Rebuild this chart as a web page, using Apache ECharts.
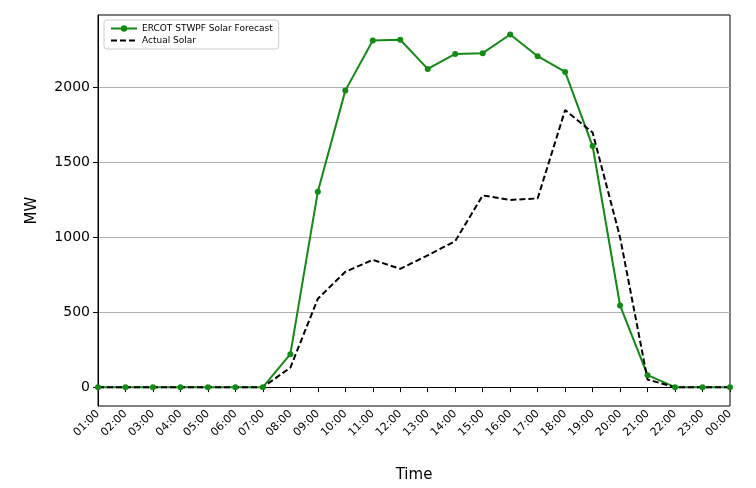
<!DOCTYPE html><html><head><meta charset="utf-8"><script src="https://cdn.jsdelivr.net/npm/echarts@6/dist/echarts.min.js"></script></head><body style="margin:0"><div id="c" style="width:756px;height:488px"></div><script>
const categories=['01:00','02:00','03:00','04:00','05:00','06:00','07:00','08:00','09:00','10:00','11:00','12:00','13:00','14:00','15:00','16:00','17:00','18:00','19:00','20:00','21:00','22:00','23:00','00:00'];
const forecast=[0,0,0,0,0,0,0,220,1305,1980,2315,2320,2125,2225,2230,2355,2210,2105,1610,545,80,0,0,0];
const actual=[0,0,0,0,0,0,0,130,590,770,850,790,880,975,1280,1250,1260,1850,1700,1000,50,0,0,0];
const yTicks=[0,500,1000,1500,2000];
const c=echarts.init(document.getElementById('c'));
const font='DejaVu Sans';
c.setOption({animation:false,textStyle:{fontFamily:font},
grid:{left:98,right:26,top:15,bottom:80,show:true,borderColor:'#000',borderWidth:1},
legend:{left:104,top:20,orient:'vertical',itemGap:3,itemWidth:26,itemHeight:8,backgroundColor:'#fff',borderColor:'#ccc',borderWidth:1,borderRadius:3,padding:[4,6],textStyle:{fontSize:9,color:'#000'},
data:[{name:'ERCOT STWPF Solar Forecast'},{name:'Actual Solar',itemStyle:{opacity:0}}]},
xAxis:{type:'category',data:categories,boundaryGap:false,name:'Time',nameLocation:'middle',nameGap:62,nameTextStyle:{fontSize:15,color:'#000'},
axisLine:{lineStyle:{color:'#000'}},axisTick:{lineStyle:{color:'#000'}},axisLabel:{rotate:45,color:'#000',fontSize:11,margin:6}},
yAxis:{type:'value',min:-126,max:2485,name:'MW',nameLocation:'middle',nameGap:58,nameTextStyle:{fontSize:15,color:'#000'},
axisLine:{show:true,lineStyle:{color:'#000'}},axisTick:{show:true,customValues:yTicks,lineStyle:{color:'#000'}},axisLabel:{customValues:yTicks,color:'#000',fontSize:14,formatter:v=>String(v)},
splitLine:{show:true,lineStyle:{color:'#b0b0b0'}}},
series:[{name:'ERCOT STWPF Solar Forecast',type:'line',data:forecast,color:'#138a13',lineStyle:{width:2},symbol:'circle',symbolSize:6},
{name:'Actual Solar',type:'line',data:actual,color:'#000',lineStyle:{width:2,type:[6,3]},symbol:'none'}]});
</script></body></html>
